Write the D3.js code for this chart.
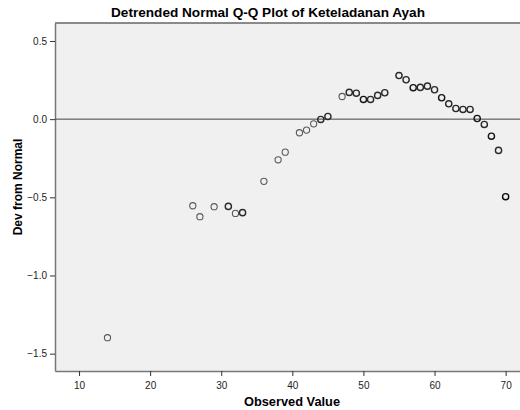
<!DOCTYPE html>
<html>
<head>
<meta charset="utf-8">
<title>Detrended Normal Q-Q Plot</title>
<script src="https://d3js.org/d3.v7.min.js"></script>
<style>
  body { margin: 0; background: #fff; }
  text { font-family: "Liberation Sans", Arial, sans-serif; }
</style>
</head>
<body>
<script>

// observed values, deviation from normal, and number of cases at each value
var observed = [14, 26, 27, 29, 31, 32, 33, 36, 38, 39, 41, 42, 43, 44, 45, 47, 48, 49, 50,
  51, 52, 53, 55, 56, 57, 58, 59, 60, 61, 62, 63, 64, 65, 66, 67, 68, 69, 70];
var deviation = [-1.398, -0.554, -0.624, -0.560, -0.558, -0.603, -0.598, -0.398, -0.260, -0.211,
  -0.087, -0.070, -0.030, -0.002, 0.017, 0.145, 0.171, 0.166, 0.126, 0.126, 0.152, 0.169,
  0.279, 0.252, 0.201, 0.203, 0.211, 0.188, 0.137, 0.098, 0.068, 0.062, 0.062, 0.004,
  -0.034, -0.109, -0.200, -0.496];
var counts = [1, 1, 1, 1, 2, 1, 2, 1, 1, 1, 1, 1, 1, 2, 2, 1, 2, 2, 3, 2, 2, 2,
  2, 2, 3, 2, 2, 2, 3, 2, 2, 2, 2, 3, 2, 3, 2, 4];
var xTicks = [10, 20, 30, 40, 50, 60, 70];
var yTicks = [0.5, 0.0, -0.5, -1.0, -1.5];

var W = 520, H = 410;
var margin = {top: 23, right: 0, bottom: 39, left: 55};
var width = W - margin.left - margin.right,
    height = H - margin.top - margin.bottom;

var x = d3.scaleLinear().domain([6.62, 72.02]).range([0, width]);
var y = d3.scaleLinear().domain([-1.611, 0.615]).range([height, 0]);

var svg = d3.select("body").append("svg")
  .attr("width", W).attr("height", H);

svg.append("text")
  .attr("x", 268).attr("y", 17)
  .attr("text-anchor", "middle")
  .style("font-size", "13.6px").style("font-weight", "bold")
  .text("Detrended Normal Q-Q Plot of Keteladanan Ayah");

var g = svg.append("g")
  .attr("transform", "translate(" + margin.left + "," + margin.top + ")");

g.append("rect")
  .attr("width", width).attr("height", height)
  .attr("fill", "#f0f0f0");

// top frame line
g.append("line")
  .attr("x1", 0).attr("x2", width).attr("y1", 0).attr("y2", 0)
  .attr("stroke", "#666").attr("stroke-width", 1.5);

var xAxis = g.append("g")
  .attr("transform", "translate(0," + height + ")")
  .call(d3.axisBottom(x).tickValues(xTicks).tickSize(5).tickSizeOuter(0).tickFormat(d3.format("d")));

var yAxis = g.append("g")
  .call(d3.axisLeft(y).tickValues(yTicks).tickSize(5).tickSizeOuter(0).tickFormat(d3.format(".1f")));

[xAxis, yAxis].forEach(function(a) {
  a.select(".domain").attr("stroke", "#777").attr("stroke-width", 1.5);
  a.selectAll(".tick line").attr("stroke", "#333");
  a.selectAll(".tick text").attr("fill", "#222")
    .style("font-size", "10px").style("font-family", "Liberation Sans, Arial, sans-serif");
});
xAxis.selectAll(".tick text").attr("dy", "0.95em");

// zero reference line
g.append("line")
  .attr("x1", 0).attr("x2", width)
  .attr("y1", y(0)).attr("y2", y(0))
  .attr("stroke", "#444").attr("stroke-width", 1);

var pts = observed.map(function(v, i) {
  return {x: v, y: deviation[i], n: counts[i]};
});

var shade = {1: "#5a5a5a", 2: "#2a2a2a", 3: "#151515", 4: "#0a0a0a"};

g.selectAll(".dot")
  .data(pts)
  .enter().append("circle")
    .attr("class", "dot")
    .attr("cx", function(d) { return x(d.x); })
    .attr("cy", function(d) { return y(d.y); })
    .attr("r", 3.1)
    .attr("fill", "none")
    .attr("stroke", function(d) { return shade[d.n]; })
    .attr("stroke-width", function(d) { return d.n > 1 ? 1.4 : 1.1; });

svg.append("text")
  .attr("x", 292).attr("y", 406)
  .attr("text-anchor", "middle")
  .style("font-size", "12.8px").style("font-weight", "bold")
  .text("Observed Value");

svg.append("text")
  .attr("transform", "translate(22,187) rotate(-90)")
  .attr("text-anchor", "middle")
  .style("font-size", "12px").style("font-weight", "bold")
  .text("Dev from Normal");

</script>
</body>
</html>
